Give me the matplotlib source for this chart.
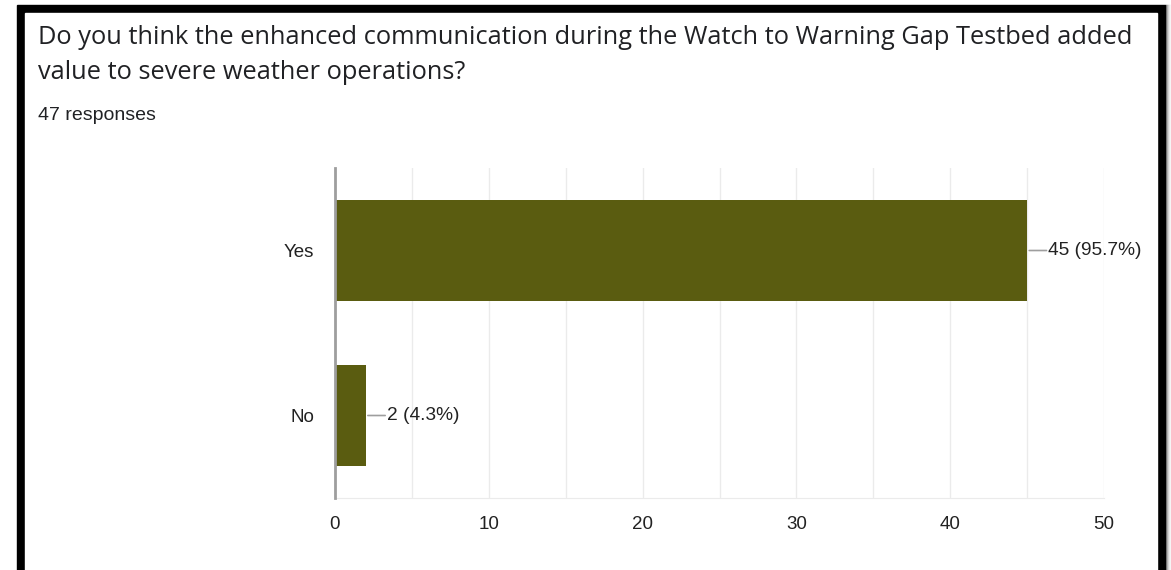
import matplotlib.pyplot as plt
from matplotlib.patches import Rectangle

# survey data
question = ("Do you think the enhanced communication during the Watch to Warning Gap Testbed added\n"
            "value to severe weather operations?")
n_responses = 47
answers = ["Yes", "No"]
counts = [45, 2]
percents = [95.7, 4.3]
xticks = [0, 10, 20, 30, 40, 50]

W, H = 1171, 570
fig = plt.figure(figsize=(W / 100, H / 100), dpi=100)

# screenshot frame (black border with a soft shadow on the right)
for i, g in enumerate(['#555555', '#888888', '#aaaaaa', '#cccccc', '#e6e6e6', '#f5f5f5']):
    fig.patches.append(Rectangle(((1165 + i) / W, 0), 1 / W, (H - 5) / H,
                                 transform=fig.transFigure, color=g, zorder=-2))
fig.patches.append(Rectangle((17 / W, 0), (1165 - 17) / W, (H - 5) / H,
                             transform=fig.transFigure, color='black', zorder=-2))
fig.patches.append(Rectangle((25 / W, 0), (1157 - 25) / W, (H - 13) / H,
                             transform=fig.transFigure, color='white', zorder=-1))

fig.text(38 / W, 1 - 55 / H, question, fontsize=18.3, family='Open Sans', color='#202124',
         ha='left', va='center', linespacing=1.56)
fig.text(38 / W, 1 - 116 / H, f"{n_responses} responses", fontsize=14,
         family='Liberation Sans', color='#202124', ha='left', va='center')

ax = fig.add_axes([335 / W, 72 / H, (1104 - 335) / W, (498 - 168) / H])
ax.set_zorder(2)
ax.set_facecolor('white')
ypos = list(range(len(answers)))
ax.barh(ypos, counts, height=0.61, color='#5a5c10', zorder=3)
ax.set_ylim(len(answers) - 0.5, -0.5)
ax.set_xlim(0, 50)

for y, c, p in zip(ypos, counts, percents):
    ax.annotate('', xy=(c, y), xytext=(14, 0), textcoords='offset points',
                arrowprops=dict(arrowstyle='-', color='#9e9e9e', lw=1.2, shrinkA=0, shrinkB=1.5))
    ax.annotate(f"{c} ({p}%)", xy=(c, y), xytext=(15, 0), textcoords='offset points',
                ha='left', va='center', fontsize=13.8, family='Liberation Sans', color='#222222')

ax.set_xticks(xticks)
ax.set_xticks(range(5, 50, 10), minor=True)
ax.set_yticks(ypos)
ax.set_yticklabels(answers)
ax.grid(axis='x', which='both', color='#ebebeb', linewidth=1, zorder=0)
ax.tick_params(axis='both', which='both', length=0, labelsize=13.5, labelcolor='#222222')
ax.tick_params(axis='x', pad=13)
ax.tick_params(axis='y', pad=15)
for lab in ax.get_xticklabels() + ax.get_yticklabels():
    lab.set_family('Liberation Sans')

for s in ['top', 'right']:
    ax.spines[s].set_visible(False)
ax.spines['bottom'].set_color('#ebebeb')
ax.spines['left'].set_color('#9e9e9e')
ax.spines['left'].set_linewidth(2)
ax.spines['left'].set_zorder(4)

fig.savefig('out.png', dpi=100)
